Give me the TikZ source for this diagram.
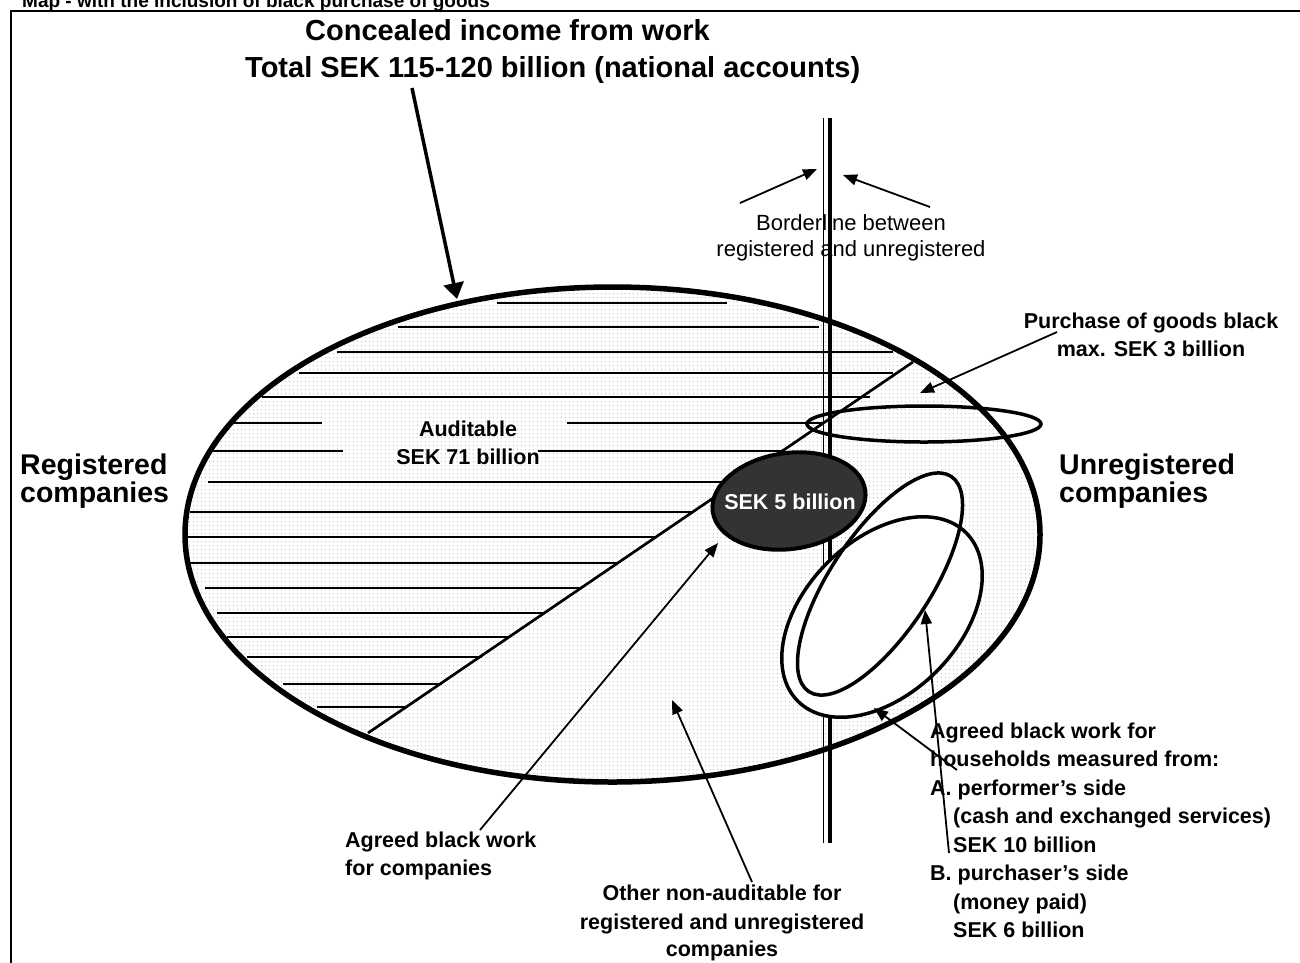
\documentclass[tikz,border=0pt]{standalone}
\usepackage{fontspec}
\setmainfont{Liberation Sans}
\usetikzlibrary{arrows.meta,patterns}
\pgfdeclarepatternformonly{sdots}{\pgfpointorigin}{\pgfpoint{4pt}{4pt}}{\pgfpoint{4pt}{4pt}}{%
  \pgfpathrectangle{\pgfpoint{1pt}{1pt}}{\pgfpoint{1.3pt}{1.3pt}}\pgfusepath{fill}}
\begin{document}
\begin{tikzpicture}[x=1pt,y=-1pt,
  lbl/.style={inner sep=0pt, font=\fontsize{21.5}{26}\selectfont\bfseries},
  big/.style={inner sep=0pt, font=\fontsize{28.5}{34}\selectfont\bfseries},
  ttl/.style={inner sep=0pt, font=\fontsize{29}{35}\selectfont\bfseries},
  plain/.style={inner sep=0pt, font=\fontsize{22}{26}\selectfont},
  thinarr/.style={line width=1.8pt, -{Triangle[length=14pt,width=11pt]}},
  hatch/.style={line width=1.5pt},
  hh/.style={line width=3.5pt},
]
\useasboundingbox (0,0) rectangle (1300,962);
% frame
\coordinate (fbl) at (11,965);
\coordinate (ftl) at (11,11);
\coordinate (ftr) at (1305,11);
\draw[line width=2.7pt] (fbl) -- (ftl) -- (ftr);
% cut-off heading
\node[inner sep=0pt, anchor=base west, font=\fontsize{19}{22}\selectfont\bfseries] (map) at (22,7.5) {Map - with the inclusion of black purchase of goods};

% main ellipse dotted fill
\fill[white] (612.5,534.5) ellipse [x radius=427.5pt, y radius=247.5pt];
\fill[pattern=sdots, pattern color=gray!45] (612.5,534.5) ellipse [x radius=427.5pt, y radius=247.5pt];

% hatch lines
\foreach \y/\a/\b in {303/497/727, 327/398/819, 352/337/893, 373/299/893, 397/262/870,
   423/233/322, 423/567/823, 451/213/343, 451/538/781, 482/208/736, 512/190/692,
   537/187/655, 563/190/618, 588/205/582, 613/217/543, 637/227/510, 657/247/482,
   684/283/442, 707/317/407}
  \draw[hatch] (\a,\y) -- (\b,\y);

% diagonal
\coordinate (dg1) at (368,733);
\coordinate (dg2) at (913,362);
\draw[line width=2.7pt] (dg1) -- (dg2);

% borderline
\coordinate (bl1) at (823.5,118);
\coordinate (bl2) at (823.5,843);
\coordinate (br1) at (830,118);
\coordinate (br2) at (830,843);
\draw[line width=1.5pt] (bl1) -- (bl2);
\draw[line width=4.5pt] (br1) -- (br2);

% purchase ellipse
\draw[hh] (924,424) ellipse [x radius=117pt, y radius=18pt];

% household ellipses
\fill[white, rotate around={56.5:(880,584)}] (880,584) ellipse [x radius=129pt, y radius=50pt];
\fill[white, rotate around={45:(882,617)}] (882,617) ellipse [x radius=119pt, y radius=77pt];
\draw[hh, rotate around={56.5:(880,584)}] (880,584) ellipse [x radius=129pt, y radius=50pt];
\draw[hh, rotate around={45:(882,617)}] (882,617) ellipse [x radius=119pt, y radius=77pt];

% main ellipse outline
\draw[line width=5.5pt] (612.5,534.5) ellipse [x radius=427.5pt, y radius=247.5pt];

% dark ellipse
\draw[line width=4pt, fill=black!80, rotate around={8:(789,501)}] (789,501) ellipse [x radius=77pt, y radius=48pt];
\node[lbl, text=white] (sek5) at (790,502) {SEK 5 billion};

% titles
\node[ttl, anchor=base west] (t1) at (305,40) {Concealed income from work};
\node[ttl, anchor=base west] (t2) at (245,77) {Total SEK 115-120 billion (national accounts)};

% side labels
\node[big, anchor=base west] (rg1) at (20,474) {Registered};
\node[big, anchor=base west] (rg2) at (20,502) {companies};
\node[big, anchor=base west] (ur1) at (1059,474) {Unregistered};
\node[big, anchor=base west] (ur2) at (1059,502) {companies};

% borderline label
\node[plain, anchor=base] (bt1) at (851,230) {Borderline between};
\node[plain, anchor=base] (bt2) at (851,256) {registered and unregistered};

% auditable
\node[lbl, anchor=base] (au1) at (468,436) {Auditable};
\node[lbl, anchor=base] (au2) at (468,464) {SEK 71 billion};

% purchase
\node[lbl, anchor=base] (pu1) at (1151,328) {Purchase of goods black};
\node[lbl, anchor=base] (pu2) at (1151,356) {max. SEK 3 billion};

% agreed black work for companies
\node[lbl, anchor=base west] (ac1) at (345,847) {Agreed black work};
\node[lbl, anchor=base west] (ac2) at (345,875) {for companies};

% other non-auditable
\node[lbl, anchor=base] (ot1) at (722,900) {Other non-auditable for};
\node[lbl, anchor=base] (ot2) at (722,929) {registered and unregistered};
\node[lbl, anchor=base] (ot3) at (722,956) {companies};

% households
\node[lbl, anchor=base west] (h1) at (930,738) {Agreed black work for};
\node[lbl, anchor=base west] (h2) at (930,766.5) {households measured from:};
\node[lbl, anchor=base west] (h3) at (930,795) {A. performer’s side};
\node[lbl, anchor=base west] (h4) at (953,823.5) {(cash and exchanged services)};
\node[lbl, anchor=base west] (h5) at (953,852) {SEK 10 billion};
\node[lbl, anchor=base west] (h6) at (930,880.5) {B. purchaser’s side};
\node[lbl, anchor=base west] (h7) at (953,909) {(money paid)};
\node[lbl, anchor=base west] (h8) at (953,937.5) {SEK 6 billion};

% arrows
\coordinate (ta) at (412,88);
\coordinate (tb) at (457,299);
\draw[line width=3.5pt, -{Triangle[length=16pt,width=20pt]}] (ta) -- (tb);

\coordinate (ba1) at (740,203);
\coordinate (bb1) at (817,169);
\coordinate (ba2) at (930,207);
\coordinate (bb2) at (843,175);
\draw[thinarr] (ba1) -- (bb1);
\draw[thinarr] (ba2) -- (bb2);

\coordinate (pa) at (1057,332);
\coordinate (pb) at (920,393);
\draw[thinarr] (pa) -- (pb);

\coordinate (ca) at (480,830);
\coordinate (cb) at (718,543);
\draw[thinarr] (ca) -- (cb);

\coordinate (oa) at (752,882);
\coordinate (ob) at (672,700);
\draw[thinarr] (oa) -- (ob);

\coordinate (ha1) at (957,770);
\coordinate (hb1) at (874,708);
\draw[thinarr] (ha1) -- (hb1);

\coordinate (ha2) at (949,853);
\coordinate (hb2) at (925,610);
\draw[thinarr] (ha2) -- (hb2);
\end{tikzpicture}
\end{document}
